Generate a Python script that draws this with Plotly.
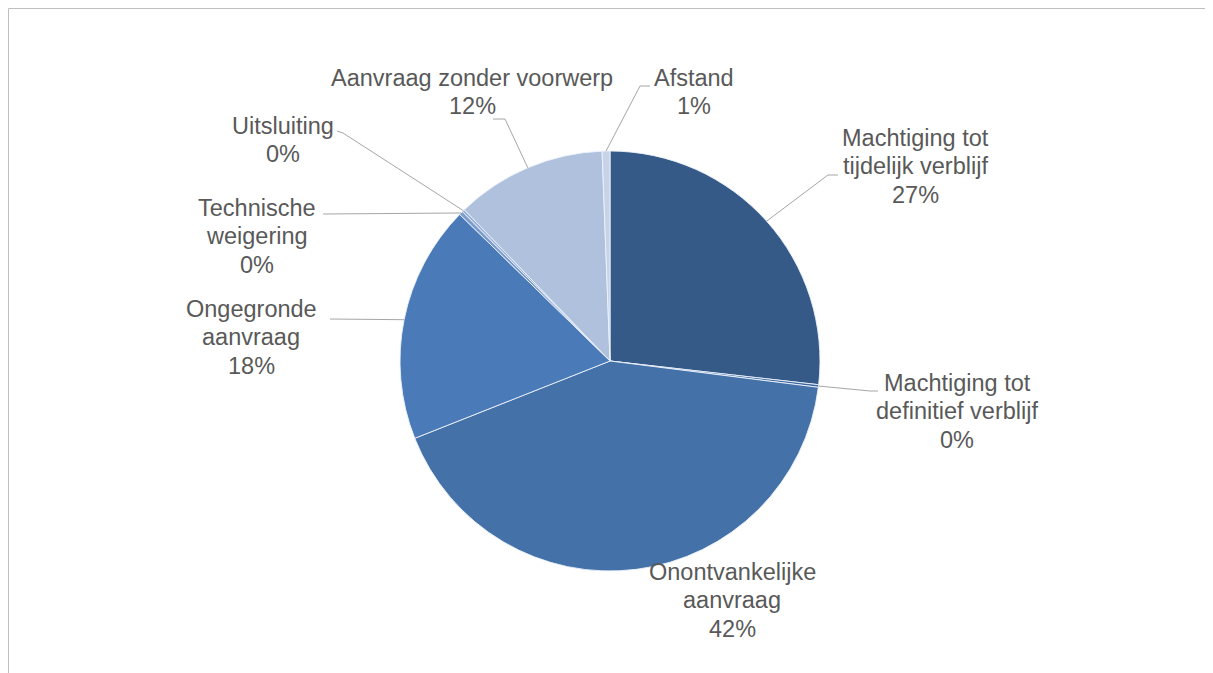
import math
import plotly.graph_objects as go

# ---- data ----
categories = [
    "Machtiging tot tijdelijk verblijf",
    "Machtiging tot definitief verblijf",
    "Onontvankelijke aanvraag",
    "Ongegronde aanvraag",
    "Technische weigering",
    "Uitsluiting",
    "Aanvraag zonder voorwerp",
    "Afstand",
]
label_lines = [
    ["Machtiging tot", "tijdelijk verblijf"],
    ["Machtiging tot", "definitief verblijf"],
    ["Onontvankelijke", "aanvraag"],
    ["Ongegronde", "aanvraag"],
    ["Technische", "weigering"],
    ["Uitsluiting"],
    ["Aanvraag zonder voorwerp"],
    ["Afstand"],
]
values = [26.8, 0.2, 42.0, 18.3, 0.3, 0.2, 11.6, 0.6]

# ---- style ----
colors = ["#355A87", "#3E689C", "#4472A8", "#4A7BB8", "#7E9CCB", "#98AFD5", "#B0C1DD", "#C8D3E7"]
W, H = 1213, 673
OFF = 8                              # page body margin offset
CX, CY, R = 610, 361, 210            # pie centre / radius in px (screen)
LINE_H = 28.5
label_pos = [(915, 166), (957, 411), (732, 600), (251, 337), (257, 236), (283, 140), (472, 92), (694, 92)]
elbows = [[(828, 175), (838, 175)],
          [(870, 391), (878, 391)],
          None,
          [(330, 319)],
          [(323, 214)],
          [(343, 133), (337, 131)],
          [(505, 119), (493, 119)],
          [(640, 86), (650, 86)]]
font_fam = "Liberation Sans, Arial, sans-serif"
txt_col = "#595959"
line_col = "#A6A6A6"


def px(x):
    return (x - OFF) / W


def py(y):
    return 1 - (y - OFF) / H


fig = go.Figure(go.Pie(
    labels=categories,
    values=values,
    sort=False,
    direction="clockwise",
    rotation=0,
    marker=dict(colors=colors, line=dict(color="rgba(235,242,252,0.9)", width=1)),
    textinfo="none",
    hoverinfo="label+percent",
    domain=dict(x=[px(CX - R), px(CX + R)], y=[py(CY + R), py(CY - R)]),
    showlegend=False,
))

total = sum(values)
shapes = []
annotations = []
cum = 0.0
for i, v in enumerate(values):
    mid = (cum + v / 2) / total * 2 * math.pi
    cum += v
    pct = round(v / total * 100)
    lx, ly = label_pos[i]
    lines = label_lines[i] + [f"{pct}%"]
    n = len(lines)
    for k, t in enumerate(lines):
        yy = ly + (k - (n - 1) / 2) * LINE_H
        annotations.append(dict(
            x=px(lx), y=py(yy), xref="paper", yref="paper",
            text=t, showarrow=False,
            xanchor="center", yanchor="middle", align="center",
            font=dict(family=font_fam, size=23.5, color=txt_col),
        ))
    if elbows[i]:
        pts = [(CX + R * math.sin(mid), CY - R * math.cos(mid))] + elbows[i]
        path = "M " + " L ".join(f"{px(a)},{py(b)}" for a, b in pts)
        shapes.append(dict(type="path", path=path, xref="paper", yref="paper",
                           line=dict(color=line_col, width=1)))

# chart-area border (top and left visible)
bx, by = 0.5 / W, 1 - 0.5 / H
shapes.append(dict(type="line", xref="paper", yref="paper", x0=bx, y0=by, x1=1.02, y1=by,
                   line=dict(color="#BFBFBF", width=1)))
shapes.append(dict(type="line", xref="paper", yref="paper", x0=bx, y0=by, x1=bx, y1=-0.02,
                   line=dict(color="#BFBFBF", width=1)))

fig.update_layout(
    width=W, height=H,
    margin=dict(l=0, r=0, t=0, b=0),
    paper_bgcolor="white",
    plot_bgcolor="white",
    shapes=shapes,
    annotations=annotations,
)

fig.write_html("out.html")
